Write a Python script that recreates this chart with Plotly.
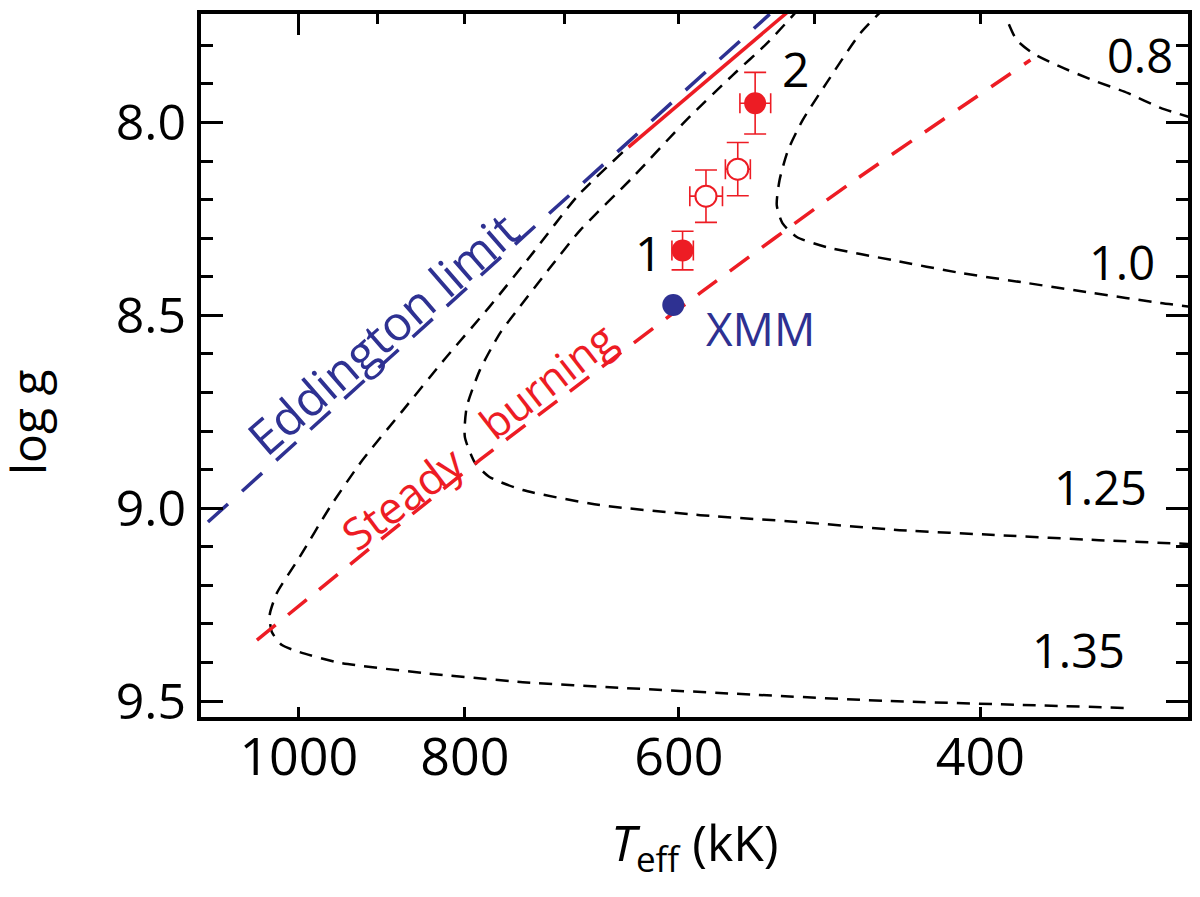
import numpy as np
import plotly.graph_objects as go

red = "#ED1C24"
navy = "#2E3192"
font = "Open Sans"

# Eddington limit (log g vs Teff in kK)
edd_T = [1130, 531]
edd_g = [9.036, 7.719]

# steady burning line
sb_T = [1058, 784, 583, 478, 374]
sb_g = [9.342, 8.875, 8.442, 8.162, 7.838]
sbs_T = [642, 515]          # solid part
sbs_g = [8.064, 7.703]

# tracks for WD masses
m135_T = [647, 688, 730, 774, 820, 869, 918, 959, 999, 1030, 1040, 1037, 1023, 999, 946, 847, 740, 647, 540, 452, 378, 329]
m135_g = [8.077, 8.192, 8.338, 8.478, 8.608, 8.745, 8.875, 8.997, 9.127, 9.220, 9.277, 9.321, 9.355, 9.373, 9.401, 9.427, 9.451, 9.466, 9.484, 9.500, 9.510, 9.518]
m125_T = [510, 533, 558, 594, 638, 685, 715, 743, 763, 784, 798, 800, 789, 774, 740, 667, 583, 510, 446, 390, 341, 301]
m125_g = [7.703, 7.795, 7.877, 7.994, 8.141, 8.279, 8.382, 8.478, 8.546, 8.642, 8.738, 8.815, 8.883, 8.919, 8.953, 8.992, 9.018, 9.036, 9.057, 9.070, 9.083, 9.093]
m100_T = [455, 470, 492, 508, 518, 524, 526, 522, 512, 492, 450, 411, 376, 344, 314, 301]
m100_g = [7.703, 7.768, 7.898, 7.994, 8.071, 8.149, 8.214, 8.261, 8.297, 8.323, 8.357, 8.390, 8.416, 8.442, 8.468, 8.478]
m080_T = [385, 381, 373, 359, 344, 328, 314, 301]
m080_g = [7.745, 7.786, 7.820, 7.856, 7.890, 7.924, 7.962, 7.988]

mass_text = ["0.8", "1.0", "1.25", "1.35"]
mass_T = [322.7, 330.6, 340.5, 350.7]
mass_g = [7.825, 8.361, 8.945, 9.368]

# fits
fill_T = [597, 541.5]
fill_g = [8.332, 7.950]
fill_eT = [8.6, 11.2]
fill_eg = [0.05, 0.08]
open_T = [578.5, 554.3]
open_g = [8.191, 8.121]
open_eT = [12.7, 9.3]
open_eg = [0.068, 0.069]
xmm_T = [604.5]
xmm_g = [8.473]

x_ticks = [1000, 800, 600, 400]
x_top_minor = [900, 800, 700, 600, 500, 400, 300]
y_ticks = [8.0, 8.5, 9.0, 9.5]

fig = go.Figure()

black_dash = dict(color="black", width=2.5, dash="13px,9px")
for T, g in [(m135_T, m135_g), (m125_T, m125_g), (m100_T, m100_g), (m080_T, m080_g)]:
    fig.add_trace(go.Scatter(x=T, y=g, mode="lines", line=dict(black_dash, shape="spline", smoothing=0.6),
                             showlegend=False, hoverinfo="skip"))

fig.add_trace(go.Scatter(x=sb_T, y=sb_g, mode="lines", line=dict(color=red, width=3.5, dash="24px,16px", shape="spline", smoothing=0.5),
                         showlegend=False))
fig.add_trace(go.Scatter(x=sbs_T, y=sbs_g, mode="lines", line=dict(color=red, width=3.5), showlegend=False))
fig.add_trace(go.Scatter(x=edd_T, y=edd_g, mode="lines", line=dict(color=navy, width=3.5, dash="27px,19px"), showlegend=False))

fig.add_trace(go.Scatter(
    x=fill_T, y=fill_g, mode="markers", showlegend=False,
    marker=dict(symbol="circle", size=22, color=red),
    error_x=dict(type="data", array=fill_eT, color=red, thickness=1.6, width=10),
    error_y=dict(type="data", array=fill_eg, color=red, thickness=1.6, width=11)))
fig.add_trace(go.Scatter(
    x=open_T, y=open_g, mode="markers", showlegend=False,
    marker=dict(symbol="circle", size=21, color="white", line=dict(color=red, width=2)),
    error_x=dict(type="data", array=open_eT, color=red, thickness=1.6, width=10),
    error_y=dict(type="data", array=open_eg, color=red, thickness=1.6, width=11)))
fig.add_trace(go.Scatter(x=xmm_T, y=xmm_g, mode="markers", showlegend=False,
                         marker=dict(symbol="circle", size=22, color=navy)))

# invisible trace so the top axis gets drawn
fig.add_trace(go.Scatter(x=edd_T, y=edd_g, xaxis="x2", mode="lines", line=dict(width=0),
                         opacity=0, showlegend=False, hoverinfo="skip"))

def lab(text, T, g, size, color="black", angle=0):
    fig.add_annotation(x=np.log10(T), y=g, xref="x", yref="y", text=text, showarrow=False,
                       textangle=angle, font=dict(family=font, size=size, color=color),
                       xanchor="center", yanchor="middle")

for t, T, g in zip(mass_text, mass_T, mass_g):
    lab(t, T, g, 47)
lab("1", 625.2, 8.336, 48)
lab("2", 513.2, 7.859, 48)
lab("XMM", 537.9, 8.533, 46, navy)
lab("Eddington limit", 893.1, 8.545, 48, navy, -41)
lab("Steady", 869.4, 8.971, 44, red, -37)
lab("burning", 717.0, 8.668, 43, red, -38)

# axis titles
fig.add_annotation(x=0.5, y=-0.182, xref="paper", yref="paper", showarrow=False,
                   text="<i>T</i><sub>eff</sub> (kK)", font=dict(family=font, size=50, color="black"),
                   xanchor="center", yanchor="middle")
fig.add_annotation(x=-0.176, y=0.42, xref="paper", yref="paper", showarrow=False,
                   text="log g", textangle=-90, font=dict(family=font, size=48, color="black"),
                   xanchor="center", yanchor="middle")

xrange = [np.log10(1140.6), np.log10(302.6)]
fig.update_layout(
    width=1200, height=897,
    margin=dict(l=193, r=20, t=6, b=188),
    plot_bgcolor="white", paper_bgcolor="white",
    xaxis=dict(type="log", range=xrange, tickvals=x_ticks, ticktext=[str(v) for v in x_ticks],
               ticks="inside", ticklen=10, tickwidth=3, tickcolor="black",
               showline=True, linewidth=4, linecolor="black", mirror=True,
               showgrid=False, zeroline=False, ticklabelstandoff=-8, automargin=False,
               tickfont=dict(family=font, size=52, color="black")),
    xaxis2=dict(type="log", range=xrange, overlaying="x", side="top", anchor="y",
                tickvals=[1000], ticks="inside", ticklen=21, tickwidth=3, tickcolor="black",
                minor=dict(tickmode="array", tickvals=x_top_minor, ticks="inside", ticklen=10,
                           tickwidth=3, tickcolor="black", showgrid=False),
                showticklabels=False, showgrid=False, zeroline=False, showline=False, automargin=False),
    yaxis=dict(range=[9.5414, 7.7187], tickvals=y_ticks, ticktext=["%.1f" % v for v in y_ticks],
               ticks="inside", ticklen=22, tickwidth=3, tickcolor="black",
               minor=dict(dtick=0.1, tick0=7.7, ticks="inside", ticklen=12, tickwidth=3, tickcolor="black"),
               showline=True, linewidth=4, linecolor="black", mirror="ticks",
               showgrid=False, zeroline=False, ticklabelstandoff=1, automargin=False,
               tickfont=dict(family=font, size=50, color="black")),
)

fig.write_html("out.html")
